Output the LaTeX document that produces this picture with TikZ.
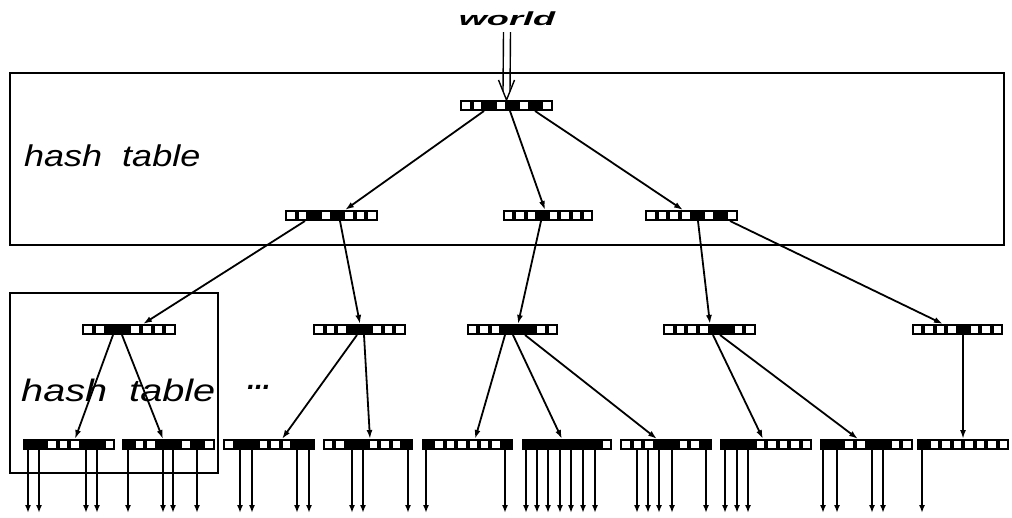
\documentclass[tikz,border=0pt]{standalone}
\usepackage{fontspec}
\setmainfont{Liberation Sans}
\usetikzlibrary{arrows.meta,calc}

\tikzset{
  arrbox/.style={fill=black, inner sep=0pt, outer sep=0pt, minimum height=11pt, anchor=north west},
  link/.style={line width=1.8pt, -{Latex[length=9pt,width=6pt]}},
  leaf/.style={line width=1.8pt, -{Latex[length=8pt,width=6pt]}},
  frame/.style={draw, line width=2pt},
  entry/.style={line width=1.4pt, line join=miter},
  lbl/.style={font=\itshape, inner sep=0pt}
}

% a bucket array of eight slots: name, left x, right x, top y, slots (1 = used, 0 = free)
\newcommand\cellrow[5]{%
  \pgfmathsetmacro\rowW{#3-#2}%
  \pgfmathsetmacro\cellW{\rowW/8}%
  \node[arrbox, minimum width=\rowW pt] (#1) at (#2,#4) {};
  \foreach \c [count=\i] in {#5}{%
    \ifnum\c=0
      \fill[white] ($(#1.north west)+({(\i-1)*\cellW+2},2.2)$) rectangle ++({\cellW-4},6.6);
    \fi
  }%
}
% pointer from one array slot to another array
\newcommand\linkto[4]{%
  \draw[link] ([xshift=#2pt]#1.south west) -- ([xshift=#4pt]#3.north west);
}
% outgoing pointers below a leaf array
\newcommand\leaves[2]{%
  \foreach \d in {#2}{\draw[leaf] ([xshift=\d pt]#1.south west) -- ++(0,63);}
}

\begin{document}
\begin{tikzpicture}[x=1pt,y=-1pt]
\path[use as bounding box] (0,0) rectangle (1012,518);

% frames of the two hash tables
\draw[frame] (10,73) rectangle (1004,245);
\draw[frame] (10,293) rectangle (218,473);

% labels
\node[lbl] (world) at (507,19) {\fontsize{19}{19}\selectfont\bfseries\scalebox{1.9}[1]{world}};
\node[lbl, anchor=west] (ht1) at (24,156) {\fontsize{30}{30}\selectfont\scalebox{1.2}[1]{hash\ \ table}};
\node[lbl, anchor=west] (ht2) at (21,390) {\fontsize{31}{31}\selectfont\scalebox{1.28}[1]{hash\ \ table}};
\node[lbl] (dots) at (259,387) {\fontsize{28}{28}\selectfont\bfseries ...};

% root array
\cellrow{root}{460}{553}{100}{0,0,1,0,1,0,1,0}
% second level
\cellrow{ua}{285}{378}{210}{0,0,1,0,1,0,0,0}
\cellrow{ub}{503}{593}{210}{0,0,0,1,0,0,0,0}
\cellrow{uc}{645}{738}{210}{0,0,0,0,1,0,1,0}
% third level
\cellrow{ma}{82}{176}{324}{0,0,1,1,0,0,0,0}
\cellrow{mb}{313}{406}{324}{0,0,0,1,1,0,0,0}
\cellrow{mc}{467}{558}{324}{0,0,0,1,1,1,0,0}
\cellrow{md}{663}{756}{324}{0,0,0,0,1,1,0,0}
\cellrow{me}{912}{1003}{324}{0,0,0,0,1,0,0,0}
% leaf level
\cellrow{b1}{23}{115}{439}{1,1,0,0,0,1,1,0}
\cellrow{b2}{122}{215}{439}{1,0,0,1,1,0,1,0}
\cellrow{b3}{223}{315}{439}{0,1,1,0,0,0,1,1}
\cellrow{b4}{323}{413}{439}{0,0,1,1,0,0,0,1}
\cellrow{b5}{422}{513}{439}{1,0,0,0,0,0,0,1}
\cellrow{b6}{522}{612}{439}{1,1,1,1,1,1,1,0}
\cellrow{b7}{620}{712}{439}{0,0,0,1,1,0,0,1}
\cellrow{b8}{720}{812}{439}{1,1,1,0,0,0,0,0}
\cellrow{b9}{820}{913}{439}{1,1,0,0,1,1,0,0}
\cellrow{b10}{917}{1009}{439}{1,0,0,0,0,0,0,0}

% entry point: a double arrow with an open head
\coordinate (tip) at (root.north);
\draw[entry] ([xshift=-3.5pt,yshift=-6pt]world.south) -- ([xshift=-3.5pt,yshift=8.75pt]tip);
\draw[entry] ([xshift=3.5pt,yshift=-6pt]world.south) -- ([xshift=3.5pt,yshift=8.75pt]tip);
\draw[entry] ([xshift=-8pt,yshift=20pt]tip) -- (tip) -- ([xshift=8pt,yshift=20pt]tip);

% pointers between levels
\linkto{root}{24}{ua}{60}
\linkto{root}{50}{ub}{42}
\linkto{root}{75}{uc}{38}
\linkto{ua}{20}{ma}{61}
\linkto{ua}{55}{mb}{47}
\linkto{ub}{38}{mc}{51}
\linkto{uc}{53}{md}{47}
\linkto{uc}{85}{me}{31}
\linkto{ma}{31}{b1}{52}
\linkto{ma}{40}{b2}{41}
\linkto{mb}{44}{b3}{59}
\linkto{mb}{51}{b4}{47}
\linkto{mc}{38}{b5}{53}
\linkto{mc}{46}{b6}{40}
\linkto{mc}{58}{b7}{37}
\linkto{md}{50}{b8}{43}
\linkto{md}{57}{b9}{38}
\linkto{me}{51}{b10}{46}

% pointers leaving the leaf arrays
\leaves{b1}{5,16,63,74}
\leaves{b2}{6,41,51,75}
\leaves{b3}{17,29,74,86}
\leaves{b4}{29,40,85}
\leaves{b5}{4,83}
\leaves{b6}{4,15,26,38,49,61,73}
\leaves{b7}{17,28,39,52,86}
\leaves{b8}{5,17,28}
\leaves{b9}{3,17,52,63}
\leaves{b10}{5}
\end{tikzpicture}
\end{document}
